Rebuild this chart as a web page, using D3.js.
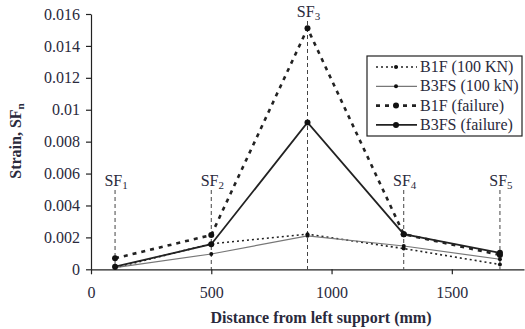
<!DOCTYPE html>
<html><head><meta charset="utf-8">
<script src="https://cdn.jsdelivr.net/npm/d3@7"></script>
<style>
body{margin:0;background:#fff;}
svg{display:block;font-family:"Liberation Serif","Times New Roman",serif;}
</style></head>
<body><svg id="c" width="525" height="329"></svg>
<script>
const categories = [100, 500, 900, 1300, 1700];
const sfLabels = ["1", "2", "3", "4", "5"];
const b1f100 = [0.0001, 0.0016, 0.0022, 0.0013, 0.0003];
const b3fs100 = [0.0001, 0.00096, 0.0021, 0.00146, 0.00063];
const b1fFail = [0.00069, 0.00215, 0.0151, 0.0022, 0.0009];
const b3fsFail = [0.00016, 0.00157, 0.0092, 0.0022, 0.00103];
const xTicks = [0, 500, 1000, 1500];
const yTicks = [0, 0.002, 0.004, 0.006, 0.008, 0.01, 0.012, 0.014, 0.016];
const yTickLabels = ["0", "0.002", "0.004", "0.006", "0.008", "0.01", "0.012", "0.014", "0.016"];
const seriesNames = ["B1F (100 KN)", "B3FS (100 kN)", "B1F (failure)", "B3FS (failure)"];

const textColor = "#2a2a3c";
const fs = 16;
const svg = d3.select("#c");
const x = d3.scaleLinear().domain([0, 1800]).range([91, 524]);
const y = d3.scaleLinear().domain([0, 0.016]).range([269.3, 14]);

const styles = [
  {data: b1f100, stroke: "#222", width: 1.6, dash: "2,3", r: 2},
  {data: b3fs100, stroke: "#777", width: 1.2, dash: null, r: 2},
  {data: b1fFail, stroke: "#222", width: 2.6, dash: "4,5", r: 3},
  {data: b3fsFail, stroke: "#222", width: 1.8, dash: null, r: 3}
];

// vertical SF lines
categories.forEach((c, i) => {
  const top = i === 2 ? 21 : 190;
  svg.append("line").attr("x1", x(c)).attr("x2", x(c)).attr("y1", top).attr("y2", y(0))
    .attr("stroke", "#444").attr("stroke-width", 1).attr("stroke-dasharray", "4,3");
  const t = svg.append("text").attr("x", x(c) + 1).attr("y", i === 2 ? 17 : 186)
    .attr("text-anchor", "middle").attr("fill", textColor).attr("font-size", fs);
  t.append("tspan").text("SF");
  t.append("tspan").attr("font-size", 11).attr("dy", 3).text(sfLabels[i]);
});

// axes
const xa = svg.append("g").attr("transform", `translate(0,${y(0)})`)
  .call(d3.axisBottom(x).tickValues(xTicks).tickSize(5).tickSizeOuter(0).tickPadding(12)
    .tickFormat(d3.format("d")));
const ya = svg.append("g").attr("transform", `translate(${x(0)},0)`)
  .call(d3.axisLeft(y).tickValues(yTicks).tickSize(5).tickSizeOuter(0).tickPadding(6)
    .tickFormat((d, i) => yTickLabels[i]));
[xa, ya].forEach(a => {
  a.selectAll("path,line").attr("stroke", "#222").attr("stroke-width", 1.2);
  a.selectAll("text").attr("font-family", "Liberation Serif, serif").attr("font-size", fs).attr("fill", textColor);
});

// series
const line = d3.line().x((d, i) => x(categories[i])).y(d => y(d));
styles.forEach(s => {
  svg.append("path").datum(s.data).attr("d", line).attr("fill", "none")
    .attr("stroke", s.stroke).attr("stroke-width", s.width)
    .attr("stroke-dasharray", s.dash);
  svg.selectAll(null).data(s.data).enter().append("circle")
    .attr("cx", (d, i) => x(categories[i])).attr("cy", d => y(d)).attr("r", s.r).attr("fill", "#111");
});

// axis titles
svg.append("text").attr("x", 321).attr("y", 323).attr("text-anchor", "middle")
  .attr("font-weight", "bold").attr("font-size", fs).attr("fill", textColor)
  .text("Distance from left support (mm)");
const yt = svg.append("text").attr("transform", "translate(21,141) rotate(-90)")
  .attr("text-anchor", "middle").attr("font-weight", "bold").attr("font-size", fs).attr("fill", textColor);
yt.append("tspan").text("Strain, SF");
yt.append("tspan").attr("font-size", 11).attr("dy", 3).text("n");

// legend
const lg = svg.append("g");
lg.append("rect").attr("x", 367).attr("y", 56).attr("width", 155).attr("height", 80)
  .attr("fill", "#fff").attr("stroke", "#222").attr("stroke-width", 1.2);
seriesNames.forEach((n, i) => {
  const yy = 67 + i * 19.3;
  const s = styles[i];
  lg.append("line").attr("x1", 376).attr("x2", 417).attr("y1", yy).attr("y2", yy)
    .attr("stroke", s.stroke).attr("stroke-width", s.width).attr("stroke-dasharray", s.dash);
  lg.append("circle").attr("cx", 396).attr("cy", yy).attr("r", s.r).attr("fill", "#111");
  lg.append("text").attr("x", 420).attr("y", yy + 5).attr("font-size", fs).attr("fill", textColor).text(n);
});
</script></body></html>
